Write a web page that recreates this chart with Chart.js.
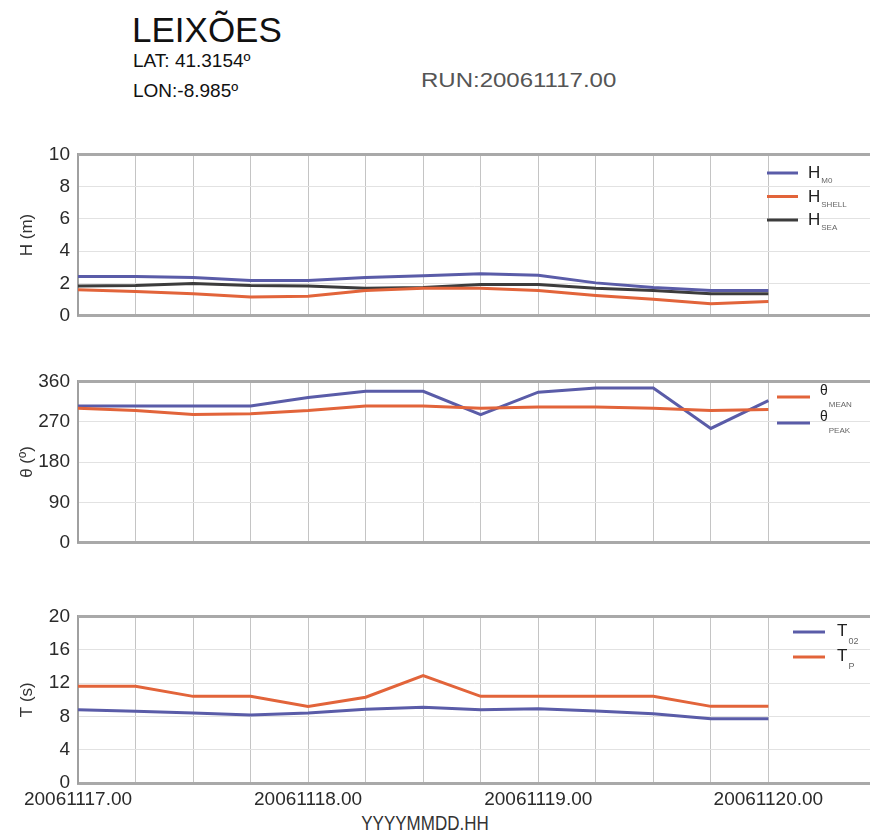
<!DOCTYPE html>
<html><head><meta charset="utf-8">
<script src="https://cdn.jsdelivr.net/npm/chart.js@4.4.0/dist/chart.umd.min.js"></script>
<style>
html,body{margin:0;padding:0;background:#fff;width:870px;height:834px;overflow:hidden;}
.box{position:absolute;left:0;width:870px;}
.txt{position:absolute;font-family:"Liberation Sans",Arial,sans-serif;color:#111;white-space:nowrap;line-height:1;}
</style></head><body>
<div class="txt" style="left:132px;top:12px;font-size:35px;">LEIXÕES</div>
<div class="txt" style="left:133px;top:51px;font-size:19px;">LAT: 41.3154º</div>
<div class="txt" style="left:133px;top:81px;font-size:19px;">LON:-8.985º</div>
<div class="txt" style="left:421px;top:70px;font-size:20px;color:#555;transform:scaleX(1.2);transform-origin:left top;">RUN:20061117.00</div>
<div class="txt" style="left:425px;top:814px;font-size:17px;color:#333;transform:translateX(-50%) scaleY(1.15);transform-origin:center top;">YYYYMMDD.HH</div>
<div class="box" style="top:135px;height:200px;"><canvas id="c1"></canvas></div>
<div class="box" style="top:362px;height:200px;"><canvas id="c2"></canvas></div>
<div class="box" style="top:597px;height:237px;"><canvas id="c3"></canvas></div>
<script>
// ---- data ----
const timeLabels = ['20061117.00','20061117.06','20061117.12','20061117.18','20061118.00','20061118.06','20061118.12','20061118.18','20061119.00','20061119.06','20061119.12','20061119.18','20061120.00'];
const xTickLabels = ['20061117.00','20061118.00','20061119.00','20061120.00'];
const hM0    = [2.43,2.43,2.37,2.18,2.18,2.37,2.47,2.60,2.50,2.03,1.74,1.55,1.55];
const hShell = [1.60,1.50,1.35,1.16,1.20,1.55,1.70,1.70,1.55,1.25,1.02,0.73,0.87];
const hSea   = [1.83,1.87,1.99,1.87,1.83,1.70,1.74,1.93,1.93,1.70,1.55,1.35,1.35];
const thetaMean = [300,295,286,288,295,305,305,300,303,303,300,295,297];
const thetaPeak = [305,305,305,305,324,338,338,286,336,345,345,255,317];
const t02 = [8.8,8.6,8.4,8.15,8.4,8.85,9.1,8.8,8.9,8.65,8.3,7.7,7.7];
const tP  = [11.6,11.6,10.4,10.4,9.2,10.3,12.9,10.4,10.4,10.4,10.4,9.2,9.2];
const hTicks = [0,2,4,6,8,10];
const thetaTicks = [0,90,180,270,360];
const tTicks = [0,4,8,12,16,20];

// ---- helpers ----
function toHours(s){
  const d = parseInt(s.slice(6,8),10), h = parseInt(s.slice(9,11),10);
  const d0 = parseInt(timeLabels[0].slice(6,8),10);
  return (d-d0)*24 + h;
}
const hours = timeLabels.map(toHours);
const lastH = hours[hours.length-1];
const tickHours = xTickLabels.map(toHours);
const pts = arr => arr.map((v,i)=>({x:hours[i], y:v}));

const BLUE='#5a5ca8', ORANGE='#e2643a', DARK='#3c3c3c';
const SANS = "'Liberation Sans',Arial,sans-serif";

const subLegend = {
  id:'subLegend',
  afterDraw(chart, args, o){
    const ctx = chart.ctx; ctx.save();
    chart.data.datasets.forEach((ds,i)=>{
      const y = o.y + i*o.dy;
      ctx.strokeStyle = ds.borderColor; ctx.lineWidth = 3;
      ctx.beginPath(); ctx.moveTo(o.x,y); ctx.lineTo(o.x+o.len,y); ctx.stroke();
      ctx.textAlign='left'; ctx.textBaseline='alphabetic';
      ctx.fillStyle='#222'; ctx.font = o.mainFont;
      ctx.fillText(ds.label, o.tx, y+o.mainDy);
      const w = ctx.measureText(ds.label).width;
      ctx.fillStyle='#666'; ctx.font = o.subFont;
      ctx.fillText(ds.sub, o.tx+w+1, y+o.subDy);
    });
    ctx.restore();
  }
};
const topBorder = {
  id:'topBorder',
  afterDatasetsDraw(chart){
    const {ctx, chartArea:a} = chart; ctx.save();
    ctx.strokeStyle='#a9a9a9'; ctx.lineWidth=3;
    ctx.beginPath(); ctx.moveTo(a.left,a.top); ctx.lineTo(a.right,a.top); ctx.stroke();
    ctx.restore();
  }
};

function makeChart(id, datasets, yTicks, yTitle, legendOpts, showX, xHeight){
  const yMax = yTicks[yTicks.length-1];
  return new Chart(document.getElementById(id), {
    type:'line',
    data:{datasets},
    options:{
      responsive:true, maintainAspectRatio:false, animation:false,
      layout:{padding:{top:10,left:0,right:0,bottom:0}},
      elements:{point:{radius:0}, line:{borderWidth:3, tension:0}},
      plugins:{legend:{display:false}, tooltip:{enabled:false}, subLegend:legendOpts},
      scales:{
        x:{
          type:'linear', min:0, max:82.6,
          afterBuildTicks: s => { s.ticks = hours.map(h=>({value:h})); },
          afterFit: s => { s.height = xHeight; },
          grid:{color: c => c.tick && c.tick.value>lastH ? 'rgba(0,0,0,0)' : '#c4c4c4', lineWidth:1, drawTicks:false},
          border:{color:'#a9a9a9', width:3},
          ticks:{display:showX, autoSkip:false, maxRotation:0, padding:5, color:'#2a2a2a',
            font:{family:SANS, size:19},
            callback: v => { const k = tickHours.indexOf(v); return k>=0 ? xTickLabels[k] : ''; }}
        },
        y:{
          min:0, max:yMax,
          afterBuildTicks: s => { s.ticks = yTicks.map(v=>({value:v})); },
          afterFit: s => { s.width = 78; },
          grid:{color:'#e2e2e2', lineWidth:1, drawTicks:false},
          border:{color:'#a0a0a0', width:2},
          ticks:{padding:8, color:'#2a2a2a', font:{family:SANS, size:19}},
          title:{display:true, text:yTitle, color:'#333', font:{family:SANS, size:17}, padding:{top:17,bottom:0}}
        }
      }
    },
    plugins:[subLegend, topBorder]
  });
}

makeChart('c1', [
  {label:'H', sub:'M0', data:pts(hM0), borderColor:BLUE},
  {label:'H', sub:'SHELL', data:pts(hShell), borderColor:ORANGE},
  {label:'H', sub:'SEA', data:pts(hSea), borderColor:DARK}
], hTicks, 'H (m)', {x:767, len:31, tx:808, y:38, dy:23.5, mainFont:"17px "+SANS, subFont:"8px "+SANS, mainDy:5, subDy:10}, false, 13);

makeChart('c2', [
  {label:'θ', sub:'MEAN', data:pts(thetaMean), borderColor:ORANGE},
  {label:'θ', sub:'PEAK', data:pts(thetaPeak), borderColor:BLUE}
], thetaTicks, 'θ (º)', {x:777, len:33, tx:820, y:35, dy:26, mainFont:"14px "+SANS, subFont:"8px "+SANS, mainDy:-2, subDy:10}, false, 14);

makeChart('c3', [
  {label:'T', sub:'02', data:pts(t02), borderColor:BLUE},
  {label:'T', sub:'P', data:pts(tP), borderColor:ORANGE}
], tTicks, 'T (s)', {x:793, len:32, tx:837, y:35, dy:25, mainFont:"17px "+SANS, subFont:"9px "+SANS, mainDy:4, subDy:12}, true, 51);
</script>
</body></html>
